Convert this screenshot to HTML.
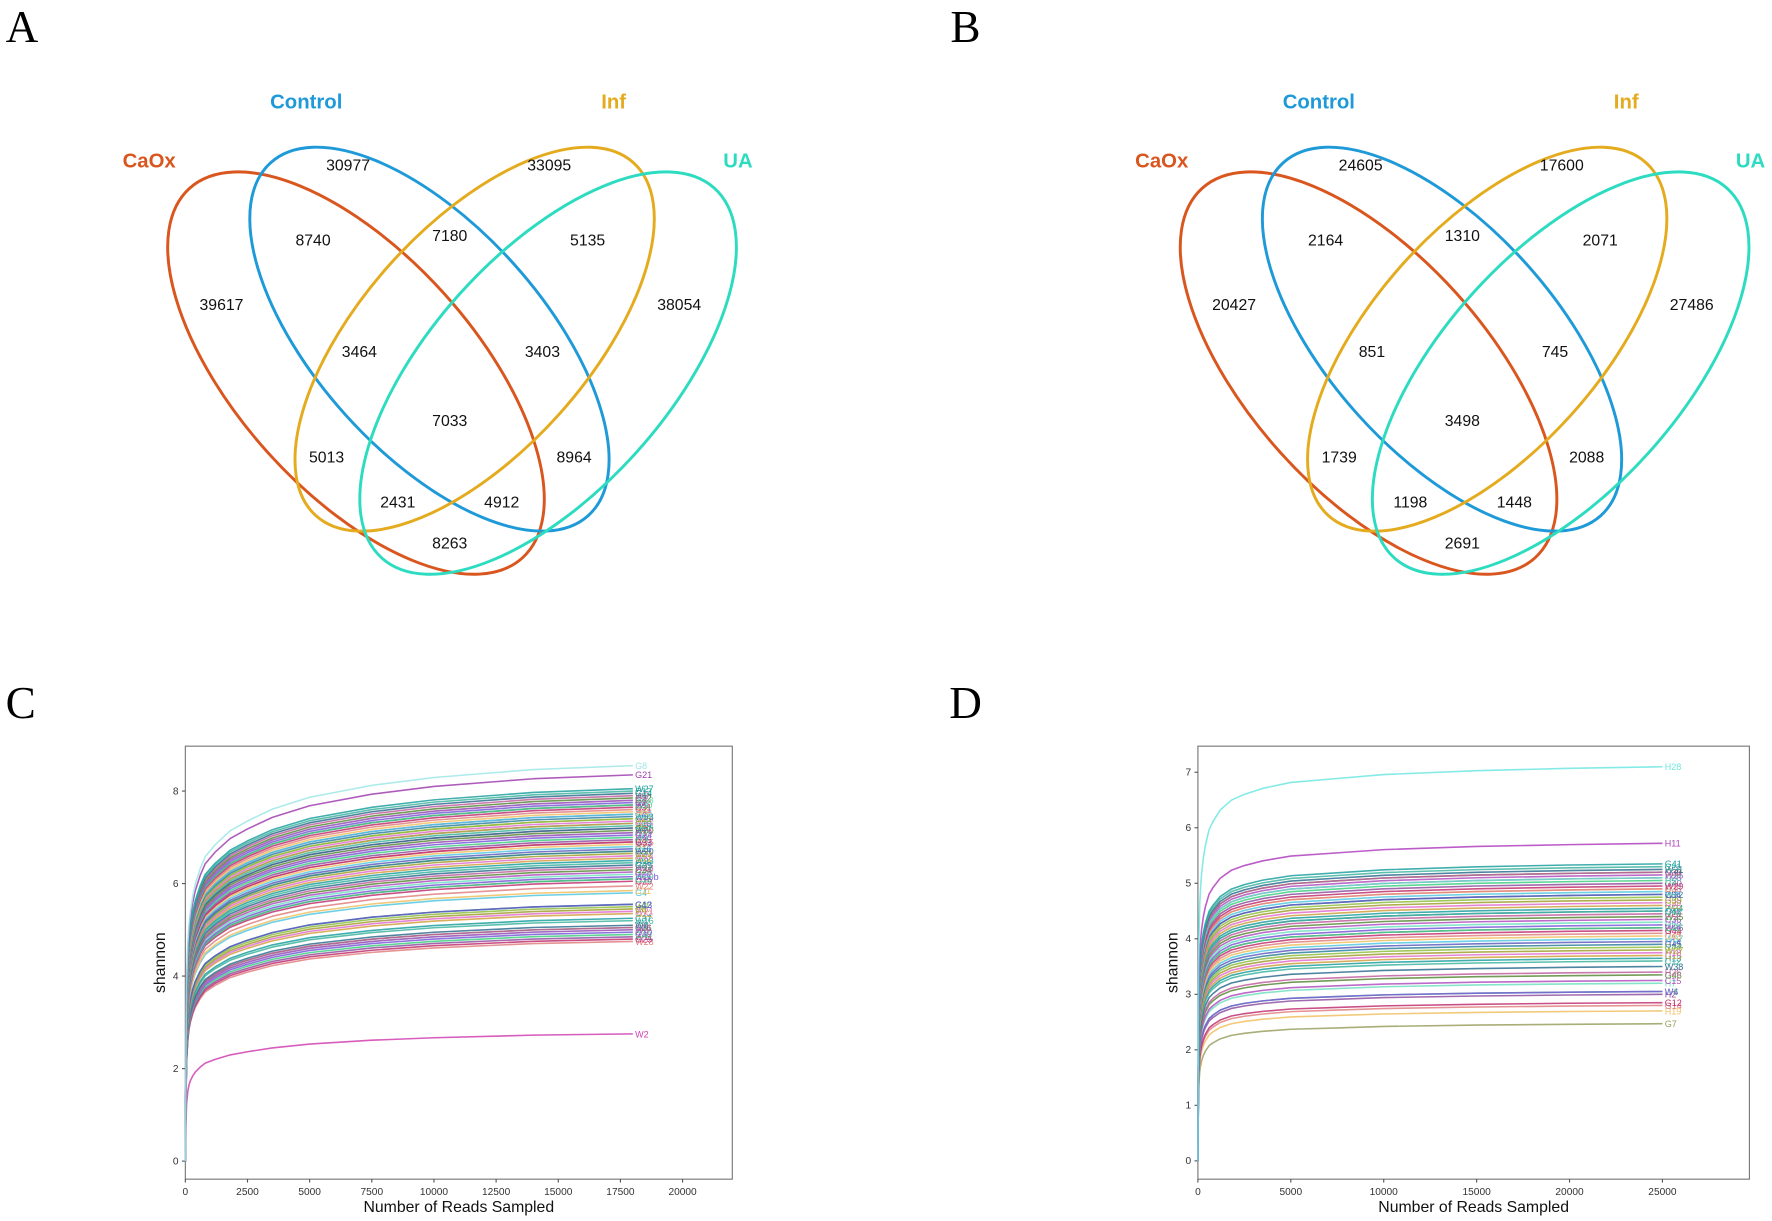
<!DOCTYPE html>
<html><head><meta charset="utf-8"><style>
html,body{margin:0;padding:0;background:#fff;}
svg{display:block;font-family:"Liberation Sans",Arial,sans-serif;}
</style></head><body>
<svg id="fig" width="1772" height="1221" viewBox="0 0 1568 1080" preserveAspectRatio="none" xmlns="http://www.w3.org/2000/svg">
<rect width="1568" height="1080" fill="#fff"/>
<g font-family="Liberation Serif,serif" font-size="40" fill="#000">
<text x="5" y="37">A</text>
<text x="841" y="37">B</text>
<text x="5" y="635">C</text>
<text x="840" y="635">D</text>
</g>
<g id="vennA"></g>
<g id="vennB" transform="translate(896,0)"></g>
<g id="plotC"></g>
<g id="plotD"></g>
</svg>
<script>
// Venn data
const vennSets = ["CaOx","Control","Inf","UA"];
const vennA = ["30977","33095","8740","7180","5135","39617","38054","3464","3403","7033","5013","8964","2431","4912","8263"];
const vennB = ["24605","17600","2164","1310","2071","20427","27486","851","745","3498","1739","2088","1198","1448","2691"];
const regionPos = [[308,146],[486,146],[277,212],[398,208],[520,212],[196,269],[601,269],[318,311],[480,311],[398,372],[289,404],[508,404],[352,444],[444,444],[398,480]];
const setColors = ["#d9561f","#1f9ad8","#e4ab1f","#2ddcc0"];
const ellipses = [[315,330,220,105,48],[380,300,210,100,48],[420,300,210,100,-48],[485,330,220,105,-48]];
const setLabelPos = [[132,148],[271,96],[543,96],[653,148]];
const NS="http://www.w3.org/2000/svg";
function mk(tag,attrs,parent){const e=document.createElementNS(NS,tag);for(const k in attrs)e.setAttribute(k,attrs[k]);parent.appendChild(e);return e;}
function drawVenn(g,vals){
  ellipses.forEach((e,i)=>{
    const el=mk('ellipse',{cx:e[0],cy:e[1],rx:e[2],ry:e[3],transform:`rotate(${e[4]} ${e[0]} ${e[1]})`,fill:'none',stroke:setColors[i],'stroke-width':2.6},g);
    
    
    const t=mk('text',{x:setLabelPos[i][0],y:setLabelPos[i][1],fill:setColors[i],'font-size':18,'font-weight':'bold','text-anchor':'middle'},g);
    t.textContent=vennSets[i];
    
    
  });
  vals.forEach((v,i)=>{
    const t=mk('text',{x:regionPos[i][0],y:regionPos[i][1]+5,'font-size':14,'text-anchor':'middle',fill:'#111'},g);
    t.textContent=v;
    
    
  });
}
drawVenn(document.getElementById('vennA'),vennA);
drawVenn(document.getElementById('vennB'),vennB);

// Chart C data
const cLabels = ["G8","G21","W27","C13","G14","W5","C22","G3","W18","C7","G30","W9","C31","G11","W6","G26","C4","W33","G17","C25","W12","G2","C18","W24","G9","C10","W30","G19","C27","G24","W1","C35","G33","W15","C3","G27","C16","W20","G5","C29","W14","G12","W23","C20","G35","W13","C24","G28","W26","W20b","C32","G16","G29","W22","C11","G4","G13","C42","W7","C8","W21","G22","C37","W16","W8","G31","C26","W3","C6","G10","C40","W11","G25","W28","W2"];
const cFinal = [8.55,8.35,8.05,8.0,7.95,7.9,7.85,7.8,7.8,7.75,7.7,7.7,7.65,7.6,7.55,7.5,7.5,7.45,7.4,7.4,7.35,7.3,7.3,7.25,7.2,7.2,7.15,7.1,7.1,7.05,7.0,6.95,6.9,6.9,6.85,6.8,6.75,6.7,6.7,6.65,6.6,6.55,6.5,6.45,6.4,6.35,6.3,6.25,6.2,6.15,6.1,6.1,6.05,5.95,5.85,5.8,5.55,5.55,5.5,5.45,5.4,5.35,5.25,5.2,5.1,5.05,5.05,5.0,5.0,4.95,4.9,4.85,4.8,4.75,2.75];
const cDepths = [0,25,50,100,150,200,300,400,600,800,1200,1800,2500,3500,5000,7500,10000,14000,18000];
const cRatios = [0,0.3,0.45,0.55,0.6,0.63,0.67,0.7,0.74,0.77,0.8,0.835,0.86,0.89,0.92,0.95,0.97,0.99,1];
const cXTicks = [0,2500,5000,7500,10000,12500,15000,17500,20000];
const cYTicks = [0,2,4,6,8];
// Chart D data
const dLabels = ["H28","H11","G41","C21","W31","G36","C33","W25","G38","C28","H5","G40","W29","C38","H3","G37","C34","W32","H9","G39","C39","H16","W34","G42","C41","H20","W35","C36","G43","H22","C40","W36","G44","H24","C43","W37","H14","G45","C44","W27","H18","G15","H13","C12","W38","H26","G46","C15","H7","W4","W6","H2","G12","G14","H19","G7"];
const dFinal = [7.1,5.72,5.35,5.3,5.25,5.2,5.2,5.15,5.1,5.1,5.05,5.0,4.95,4.9,4.9,4.85,4.8,4.8,4.75,4.7,4.65,4.6,4.55,4.5,4.5,4.45,4.4,4.35,4.3,4.25,4.2,4.2,4.15,4.1,4.05,4.0,3.95,3.9,3.85,3.8,3.75,3.7,3.65,3.6,3.5,3.4,3.35,3.25,3.2,3.05,3.05,3.0,2.85,2.8,2.7,2.47];
const dDepths = [0,25,50,100,150,200,300,400,600,800,1200,1800,2500,3500,5000,7500,10000,15000,20000,25000];
const dRatios = [0,0.4,0.55,0.65,0.7,0.73,0.77,0.8,0.84,0.86,0.89,0.915,0.93,0.945,0.96,0.97,0.98,0.99,0.996,1];
const dXTicks = [0,5000,10000,15000,20000,25000];
const dYTicks = [0,1,2,3,4,5,6,7];

const palette = ["#e06fd0","#3fb5a0","#5a8a3a","#7a5ad8","#c03070","#55c8e0","#8fbf3f","#d0a040","#2f6f8f","#b04fbf","#40d080","#e08080","#6060c0","#a0a030","#20a0a0","#c060a0","#70e0c0","#9050a0","#f0c060","#30809f"];
const cSpecial = {"G8":"#9fe6e6","G21":"#a040b0","W2":"#d040b0"};
const dSpecial = {"H28":"#6fe6e0","H11":"#b040c0","G7":"#9aa060"};

function drawChart(g,o){
  const sx=v=>o.L+(v-o.x0)/(o.x1-o.x0)*(o.R-o.L);
  const sy=v=>o.B-(v-o.y0)/(o.y1-o.y0)*(o.B-o.T);
  const fr=mk('rect',{x:o.L,y:o.T,width:o.R-o.L,height:o.B-o.T,fill:'none',stroke:'#777','stroke-width':1},g);
   
  o.xt.forEach(v=>{
    mk('line',{x1:sx(v),x2:sx(v),y1:o.B,y2:o.B+3,stroke:'#555'},g);
    const t=mk('text',{x:sx(v),y:o.B+14,'font-size':9,'text-anchor':'middle',fill:'#333'},g);t.textContent=v;
     
  });
  o.yt.forEach(v=>{
    mk('line',{x1:o.L-3,x2:o.L,y1:sy(v),y2:sy(v),stroke:'#555'},g);
    const t=mk('text',{x:o.L-6,y:sy(v)+3,'font-size':9,'text-anchor':'end',fill:'#333'},g);t.textContent=v;
     
  });
  const xl=mk('text',{x:(o.L+o.R)/2,y:o.B+29,'font-size':14,'text-anchor':'middle',fill:'#111'},g);xl.textContent='Number of Reads Sampled';
   
  const yl=mk('text',{x:0,y:0,'font-size':14,'text-anchor':'middle',fill:'#111',transform:`translate(${o.L-18},${(o.T+o.B)/2}) rotate(-90)`},g);yl.textContent='shannon';
   
  const n=o.fin.length;
  for(let k=n-1;k>=0;k--){
    const c=o.sp[o.lab[k]]||palette[(k*7)%palette.length];
    const pts=o.dep.map((d,j)=>sx(d).toFixed(1)+','+sy(o.fin[k]*o.rat[j]).toFixed(1)).join(' ');
    const pl=mk('polyline',{points:pts,fill:'none',stroke:c,'stroke-width':1.4,'stroke-opacity':0.85,'stroke-linejoin':'round'},g);
    
    
    const last=o.dep[o.dep.length-1];
    const t=mk('text',{x:sx(last)+2,y:sy(o.fin[k])+3,'font-size':8,fill:c},g);t.textContent=o.lab[k];
     
  }
}
drawChart(document.getElementById('plotC'),{L:164,R:648,T:660,B:1043,x0:0,x1:22000,y0:-0.39,y1:8.97,xt:cXTicks,yt:cYTicks,fin:cFinal,lab:cLabels,dep:cDepths,rat:cRatios,sp:cSpecial});
drawChart(document.getElementById('plotD'),{L:1060,R:1548,T:660,B:1043,x0:0,x1:29680,y0:-0.33,y1:7.47,xt:dXTicks,yt:dYTicks,fin:dFinal,lab:dLabels,dep:dDepths,rat:dRatios,sp:dSpecial});
</script>
</body></html>
